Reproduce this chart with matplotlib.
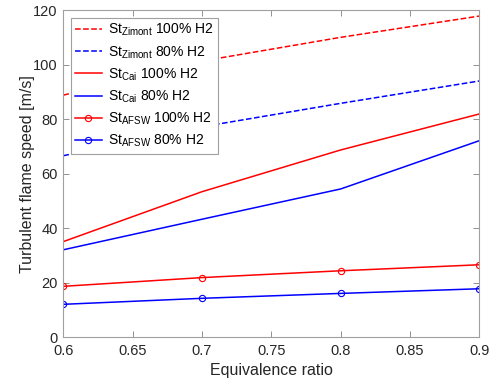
import numpy as np
import matplotlib
matplotlib.use('Agg')
import matplotlib.pyplot as plt

plt.rcParams['font.family'] = ['Liberation Sans', 'DejaVu Sans']
plt.rcParams['mathtext.fontset'] = 'custom'
plt.rcParams['mathtext.rm'] = 'Liberation Sans'
plt.rcParams['mathtext.it'] = 'Liberation Sans:italic'

# equivalence ratio
phi = [0.6, 0.7, 0.8, 0.9]

# turbulent flame speed [m/s]
zimont_100 = [88.8, 101.3, 110.0, 117.8]
zimont_80 = [66.6, 77.2, 85.8, 94.0]
cai_100 = [35.1, 53.4, 68.7, 81.9]
cai_80 = [32.1, 43.3, 54.4, 72.1]
afsw_100 = [18.7, 21.9, 24.4, 26.6]
afsw_80 = [12.1, 14.3, 16.1, 17.8]

fig = plt.figure(figsize=(5, 3.87), dpi=100)
ax = fig.add_axes([0.1267, 0.1284, 0.832, 0.8456])

ax.plot(phi, zimont_100, 'r--', lw=1.1, label=r'St$_{\mathrm{Zimont}}$ 100% H2')
ax.plot(phi, zimont_80, 'b--', lw=1.1, label=r'St$_{\mathrm{Zimont}}$ 80% H2')
ax.plot(phi, cai_100, 'r-', lw=1.1, label=r'St$_{\mathrm{Cai}}$ 100% H2')
ax.plot(phi, cai_80, 'b-', lw=1.1, label=r'St$_{\mathrm{Cai}}$ 80% H2')
ax.plot(phi, afsw_100, 'r-o', lw=1.1, ms=4.5, mfc='none', mew=0.8,
        label=r'St$_{\mathrm{AFSW}}$ 100% H2')
ax.plot(phi, afsw_80, 'b-o', lw=1.1, ms=4.5, mfc='none', mew=0.8,
        label=r'St$_{\mathrm{AFSW}}$ 80% H2')

ax.set_xlim(0.6, 0.9)
ax.set_ylim(0, 120)
ax.set_xticks([0.6, 0.65, 0.7, 0.75, 0.8, 0.85, 0.9])
ax.set_xticklabels(['0.6', '0.65', '0.7', '0.75', '0.8', '0.85', '0.9'])
ax.set_yticks(np.arange(0, 121, 20))

for s in ax.spines.values():
    s.set_color('#a0a0a0')
    s.set_linewidth(0.8)
ax.tick_params(direction='in', top=True, right=True, color='#808080',
               labelcolor='#262626', labelsize=10.5, length=4, width=0.6)
ax.tick_params(axis='x', pad=5)
ax.tick_params(axis='y', pad=4)

ax.set_xlabel('Equivalence ratio', fontsize=11.5, color='#262626')
ax.set_ylabel('Turbulent flame speed [m/s]', fontsize=11.5, color='#262626')
ax.xaxis.set_label_coords(0.5, -0.08)
ax.yaxis.set_label_coords(-0.068, 0.5)

leg = ax.legend(loc='upper left', fontsize=10, fancybox=False, framealpha=1,
                edgecolor='#a0a0a0', handlelength=1.9, handletextpad=0.5,
                labelspacing=0.42, borderpad=0.3, borderaxespad=0.55)
leg.get_frame().set_linewidth(0.8)

fig.savefig('out.png', dpi=100)
